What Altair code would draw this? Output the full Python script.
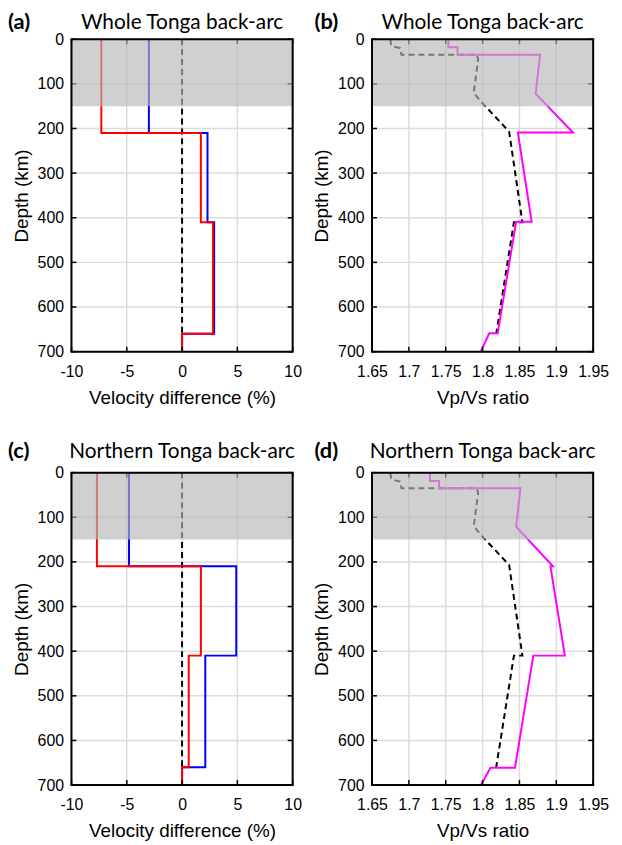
import altair as alt
import pandas as pd

W, H = 223, 315

depth_ticks = [0, 100, 200, 300, 400, 500, 600, 700]
vel_ticks = [-10, -5, 0, 5, 10]
ratio_ticks = [1.65, 1.7, 1.75, 1.8, 1.85, 1.9, 1.95]

shade_top = [0]
shade_bottom = [150]

# Velocity difference profiles (%)
vel_depth = [0, 210, 210, 410, 410, 660, 660, 700]
a_blue = [-3.0, -3.0, 2.3, 2.3, 2.9, 2.9, 0.0, 0.0]
a_red = [-7.3, -7.3, 1.7, 1.7, 2.8, 2.8, 0.0, 0.0]
c_blue = [-4.8, -4.8, 4.9, 4.9, 2.1, 2.1, 0.0, 0.0]
c_red = [-7.7, -7.7, 1.7, 1.7, 0.6, 0.6, 0.0, 0.0]
zero_depth = [0, 700]
zero_vals = [0.0, 0.0]

# Vp/Vs profiles
b_depth = [0, 18, 18, 35, 35, 122, 209, 209, 409, 409, 659, 659, 700]
b_vals = [1.7536, 1.7536, 1.766, 1.766, 1.878, 1.872, 1.9226, 1.8478, 1.8666, 1.8455, 1.8205, 1.809, 1.7975]
d_depth = [0, 19, 19, 35, 35, 121, 210, 210, 410, 410, 661, 661, 700]
d_vals = [1.7286, 1.7286, 1.741, 1.741, 1.8513, 1.8455, 1.8955, 1.892, 1.9116, 1.8688, 1.844, 1.8107, 1.7978]
ref_depth = [0, 15, 20, 35, 35, 45, 120, 140, 207, 410, 410, 660]
ref_vals = [1.675, 1.676, 1.688, 1.690, 1.792, 1.794, 1.788, 1.798, 1.836, 1.854, 1.8425, 1.8185]

ys = alt.Scale(domain=[0, 700], reverse=True, nice=False, zero=False)
LBL = "'' + datum.value"
yaxis = alt.Axis(values=depth_ticks, title="Depth (km)", labelExpr=LBL)


def panel(xs, series, xtitle, title, letter, letter_x, title_y):
    xaxis = alt.Axis(values=xs["ticks"], title=xtitle, labelExpr=LBL)
    X = alt.X("v:Q", scale=xs["scale"], axis=xaxis)
    Y = alt.Y("d:Q", scale=ys, axis=yaxis)
    xdf = pd.DataFrame({"v": xs["ticks"]})
    ydf = pd.DataFrame({"d": depth_ticks})
    one = pd.DataFrame({"k": [0]})
    grid_x = alt.Chart(xdf).mark_rule(color="#dcdcdc", strokeWidth=1.5).encode(x=X)
    grid_y = alt.Chart(ydf).mark_rule(color="#dcdcdc", strokeWidth=1.5).encode(y=Y)
    layers = [grid_x, grid_y]
    for s in series:
        depths, vals, color = s[0], s[1], s[2]
        df = pd.DataFrame({"d": depths, "v": vals, "o": list(range(len(depths)))})
        kw = dict(color=color, strokeWidth=2, clip=True)
        if len(s) > 3:
            kw["strokeDash"] = s[3]
        layers.append(alt.Chart(df).mark_line(**kw).encode(x=X, y=Y, order="o:Q"))
    tk = dict(color="black", strokeWidth=1.5)
    layers += [
        alt.Chart(xdf).mark_rule(**tk).encode(x=X, y=alt.value(H), y2=alt.value(H - 5)),
        alt.Chart(xdf).mark_rule(**tk).encode(x=X, y=alt.value(0), y2=alt.value(5)),
        alt.Chart(ydf).mark_rule(**tk).encode(y=Y, x=alt.value(0), x2=alt.value(5)),
        alt.Chart(ydf).mark_rule(**tk).encode(y=Y, x=alt.value(W - 5), x2=alt.value(W)),
    ]
    sdf = pd.DataFrame({"d": shade_top, "d2": shade_bottom})
    layers.append(
        alt.Chart(sdf).mark_rect(color="#b7b7b7", opacity=0.65).encode(
            x=alt.value(0), x2=alt.value(W), y=Y, y2="d2:Q"
        )
    )
    fr = dict(color="black", strokeWidth=2)
    layers += [
        alt.Chart(one).mark_rule(**fr).encode(x=alt.value(0), y=alt.value(0), y2=alt.value(H)),
        alt.Chart(one).mark_rule(**fr).encode(x=alt.value(W), y=alt.value(0), y2=alt.value(H)),
        alt.Chart(one).mark_rule(**fr).encode(y=alt.value(0), x=alt.value(-1), x2=alt.value(W + 1)),
        alt.Chart(one).mark_rule(**fr).encode(y=alt.value(H), x=alt.value(-1), x2=alt.value(W + 1)),
    ]
    tdf = pd.DataFrame({"t": [title], "l": [letter]})
    layers.append(
        alt.Chart(tdf).mark_text(font="Lato", fontSize=21, align="center", baseline="top", color="black").encode(
            x=alt.value(W / 2), y=alt.value(title_y), text="t:N"
        )
    )
    layers.append(
        alt.Chart(tdf).mark_text(font="Lato", fontSize=22, fontWeight="bold", align="left", baseline="top", color="black").encode(
            x=alt.value(letter_x), y=alt.value(title_y), text="l:N"
        )
    )
    return alt.layer(*layers).properties(width=W, height=H)


VEL = {"scale": alt.Scale(domain=[-10, 10], nice=False, zero=False), "ticks": vel_ticks}
RAT = {"scale": alt.Scale(domain=[1.65, 1.95], nice=False, zero=False), "ticks": ratio_ticks}

pa = panel(VEL, [(zero_depth, zero_vals, "black", [6, 4]), (vel_depth, a_blue, "#0000ff"), (vel_depth, a_red, "#ff0000")],
           "Velocity difference (%)", "Whole Tonga back-arc", "(a)", -64, -27)
pb = panel(RAT, [(ref_depth, ref_vals, "black", [6, 4]), (b_depth, b_vals, "#ff00ff")],
           "Vp/Vs ratio", "Whole Tonga back-arc", "(b)", -58, -27)
pc = panel(VEL, [(zero_depth, zero_vals, "black", [6, 4]), (vel_depth, c_blue, "#0000ff"), (vel_depth, c_red, "#ff0000")],
           "Velocity difference (%)", "Northern Tonga back-arc", "(c)", -64, -32)
pd_ = panel(RAT, [(ref_depth, ref_vals, "black", [6, 4]), (d_depth, d_vals, "#ff00ff")],
            "Vp/Vs ratio", "Northern Tonga back-arc", "(d)", -58, -32)

chart = (
    alt.concat(pa, pb, pc, pd_, columns=2, spacing={"row": 122, "column": 80}, bounds="flush")
    .properties(padding={"left": 0, "top": 0, "right": 5, "bottom": 5})
    .configure_view(stroke=None)
    .configure_axis(
        labelFont="Liberation Sans", labelFontSize=16, labelColor="black",
        titleFont="Liberation Sans", titleFontSize=19, titleFontWeight="normal", titleColor="black",
        ticks=False, tickSize=0, domain=False, grid=False, labelFlush=False, labelOverlap=False,
    )
    .configure_axisX(labelPadding=12, titlePadding=9)
    .configure_axisY(labelPadding=8, titlePadding=6)
)

chart.save("out.html", embed_options={"renderer": "svg", "actions": False})
